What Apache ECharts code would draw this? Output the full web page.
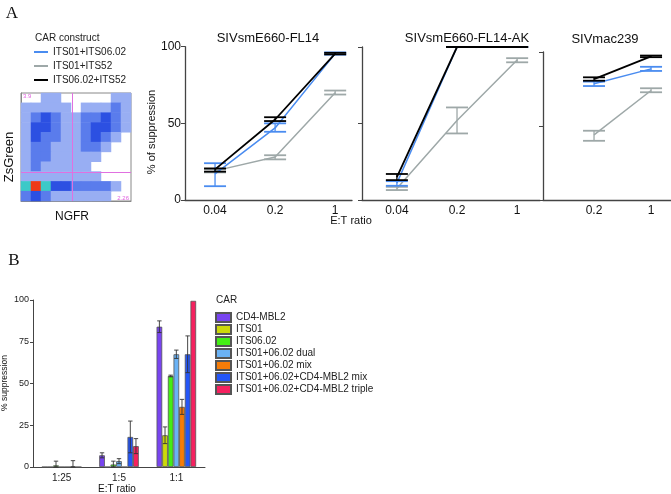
<!DOCTYPE html>
<html><head><meta charset="utf-8">
<script src="https://cdn.jsdelivr.net/npm/echarts@6/dist/echarts.min.js"></script>
<style>html,body{margin:0;padding:0;background:#fff}#c{width:671px;height:494px}</style>
</head><body><div id="c"></div>
<script>
// ---------- Panel A data ----------
const constructs = ['ITS01+ITS06.02', 'ITS01+ITS52', 'ITS06.02+ITS52'];
const constructColors = ['#4a8cf0', '#9ea8a8', '#000000'];
const ratiosFL = ['0.04', '0.2', '1'];
const ratiosAK = ['0.04', '0.2', '1'];
const ratiosMac = ['0.2', '1'];
// rows follow constructs order
const fl14Mean = [[17, 47, 95.5], [19, 28, 70], [20, 52.5, 95.5]];
const fl14Low  = [[9, 44.5, 94.8], [18, 26.5, 68.8], [18.5, 51.5, 95]];
const fl14High = [[24, 50, 96.3], [20, 29.2, 71.4], [20.6, 54, 96]];
const akMean = [[11, 100, 100], [7.5, 52, 91.5], [15, 100, 100]];
const akLow  = [[9.3, 100, 100], [6.5, 43.5, 90], [13, 100, 100]];
const akHigh = [[12.3, 100, 100], [8.6, 60.5, 92.7], [17, 100, 100]];
const macMean = [[78.5, 88.6], [44, 74], [81.7, 97]];
const macLow  = [[77, 87.2], [40, 72.8], [80.6, 96.5]];
const macHigh = [[80, 90], [46.8, 75.5], [82.9, 97.6]];

// flow cytometry density (rows top->bottom, cols left->right), 0 = empty
const flowDensity = [
  [0,0,1,1,0,0,0,0,0,1,1],
  [1,1,1,1,1,0,1,1,1,2,1],
  [1,2,3,2,1,1,2,2,3,2,1],
  [1,3,3,2,1,1,2,3,3,2,1],
  [1,3,2,2,1,1,2,3,2,1,0],
  [1,2,2,1,1,1,2,2,1,0,0],
  [1,2,2,1,1,1,1,1,0,0,0],
  [1,2,1,1,1,1,1,0,0,0,0],
  [1,1,1,1,1,1,1,1,0,0,0],
  [4,6,4,3,3,2,2,2,2,1,0],
  [2,3,2,1,1,1,1,1,1,0,0]
];
const flowGateX = 46.6;   // % of NGFR axis
const flowGateY = 26.2;   // % of ZsGreen axis
const quadrantPct = ['3.9', '5.1', '88.8', '2.26'];

// ---------- Panel B data ----------
const etRatios = ['1:25', '1:5', '1:1'];
const carNames = ['CD4-MBL2', 'ITS01', 'ITS06.02', 'ITS01+06.02 dual', 'ITS01+06.02 mix', 'ITS01+06.02+CD4-MBL2 mix', 'ITS01+06.02+CD4-MBL2 triple'];
const carColors = ['#7844f0', '#ccd90a', '#44ee14', '#6ab2f5', '#f67c08', '#2456f7', '#f5215f'];
const carMean = [[0, 7, 84], [0, 0, 19], [1, 1.5, 54.5], [0, 3.5, 67.5], [0, 0, 36], [0.3, 18, 67.5], [0, 12.5, 99.5]];
const carErr  = [[0, 1.5, 3.5], [0, 0, 5], [2.5, 2, 0.5], [0, 1.5, 2.5], [0, 0, 4.5], [3.5, 9.5, 11], [0, 4.5, 0]];

const FONT = 'Liberation Sans, Arial, sans-serif';
const chart = echarts.init(document.getElementById('c'), null, {renderer: 'canvas'});

function errRender(color) {
  return function (params, api) {
    const x = api.value(0), lo = api.value(1), hi = api.value(2);
    const a = api.coord([x, lo]), b = api.coord([x, hi]);
    const hw = 11;
    const st = {stroke: color, lineWidth: 1.3};
    const cs = {stroke: color, lineWidth: 1.8};
    return {type: 'group', children: [
      {type: 'line', shape: {x1: a[0], y1: a[1], x2: b[0], y2: b[1]}, style: st},
      {type: 'line', shape: {x1: a[0] - hw, y1: a[1], x2: a[0] + hw, y2: a[1]}, style: cs},
      {type: 'line', shape: {x1: b[0] - hw, y1: b[1], x2: b[0] + hw, y2: b[1]}, style: cs}
    ]};
  };
}
function barErrRender(si) {
  return function (params, api) {
    const c = api.value(0), v = api.value(1), e = api.value(2);
    if (!e) return null;
    const band = api.size([1, 0])[0];
    const bw = band * 0.69 / 7;
    const cx = api.coord([c, v])[0] + (si - 3) * bw;
    const t = api.coord([c, v + e])[1], b = api.coord([c, Math.max(v - e, 0)])[1];
    const hw = 2.2, st = {stroke: '#333', lineWidth: 0.9};
    return {type: 'group', children: [
      {type: 'line', shape: {x1: cx, y1: t, x2: cx, y2: b}, style: st},
      {type: 'line', shape: {x1: cx - hw, y1: t, x2: cx + hw, y2: t}, style: st},
      {type: 'line', shape: {x1: cx - hw, y1: b, x2: cx + hw, y2: b}, style: st}
    ]};
  };
}

const axisLineA = {show: true, onZero: false, lineStyle: {color: '#444', width: 1.3}};
function xAxisA(grid, labels, min, max) {
  return {type: 'value', gridIndex: grid, min: min, max: max,
    axisLine: axisLineA, axisTick: {show: false}, splitLine: {show: false},
    axisLabel: {customValues: labels.map((_, i) => i), formatter: v => labels[Math.round(v)],
      fontSize: 12, fontFamily: FONT, color: '#111', margin: 5}};
}
function yAxisA(grid, showLabels) {
  return {type: 'value', gridIndex: grid, min: 0, max: 100, interval: 50,
    axisLine: axisLineA, axisTick: {show: true, length: 4, lineStyle: {color: '#444'}},
    splitLine: {show: false},
    axisLabel: {show: showLabels, fontSize: 12, fontFamily: FONT, color: '#111', margin: 4}};
}

const xAxes = [
  {type: 'category', gridIndex: 0, data: flowDensity[0].map((_, i) => i), axisLabel: {show: false},
   axisLine: {onZero: false, lineStyle: {color: '#888'}}, axisTick: {length: 2, lineStyle: {color: '#888'}}, splitLine: {show: false}},
  xAxisA(1, ratiosFL, -0.5, 2.28),
  xAxisA(2, ratiosAK, -0.58, 2.38),
  xAxisA(3, ratiosMac, -0.895, 1.35),
  {type: 'category', gridIndex: 4, data: etRatios, axisLine: {onZero: false, lineStyle: {color: '#444'}}, axisTick: {show: false},
   axisLabel: {fontSize: 10, fontFamily: FONT, color: '#222', margin: 6}},
  {type: 'value', gridIndex: 5, min: 0, max: 100, show: false}
];
const yAxes = [
  {type: 'category', gridIndex: 0, inverse: true, data: flowDensity.map((_, i) => i), axisLabel: {show: false},
   axisLine: {onZero: false, lineStyle: {color: '#888'}}, axisTick: {length: 2, lineStyle: {color: '#888'}}, splitLine: {show: false}},
  yAxisA(1, true), yAxisA(2, false), yAxisA(3, false),
  {type: 'value', gridIndex: 4, min: 0, max: 100, interval: 25, splitLine: {show: false},
   axisLine: {show: true, onZero: false, lineStyle: {color: '#444'}}, axisTick: {show: true, length: 3, lineStyle: {color: '#444'}},
   axisLabel: {fontSize: 9, fontFamily: FONT, color: '#222', margin: 4}},
  {type: 'value', gridIndex: 5, min: 0, max: 100, show: false}
];

const series = [];
// flow heatmap
const heat = [];
flowDensity.forEach((row, r) => row.forEach((v, c) => { if (v > 0) heat.push([c, r, v]); }));
series.push({type: 'heatmap', xAxisIndex: 0, yAxisIndex: 0, data: heat, silent: true});
series.push({type: 'scatter', xAxisIndex: 5, yAxisIndex: 5, data: [], silent: true,
  markLine: {silent: true, symbol: 'none', label: {show: false}, lineStyle: {color: '#e070e0', width: 1, type: 'solid'},
    data: [{xAxis: flowGateX}, {yAxis: flowGateY}]}});

// line charts
const panels = [
  {grid: 1, mean: fl14Mean, low: fl14Low, high: fl14High},
  {grid: 2, mean: akMean, low: akLow, high: akHigh},
  {grid: 3, mean: macMean, low: macLow, high: macHigh}
];
const drawOrder = [1, 0, 2];
panels.forEach(p => {
  drawOrder.forEach((k, zi) => {
    series.push({type: 'line', name: constructs[k], xAxisIndex: p.grid, yAxisIndex: p.grid,
      data: p.mean[k].map((v, i) => [i, v]), symbol: 'none', z: 3 + zi, clip: false,
      color: constructColors[k],
      lineStyle: {color: constructColors[k], width: k === 2 ? 1.8 : 1.5}});
  });
});
panels.forEach(p => {
  drawOrder.forEach((k, zi) => {
    series.push({type: 'custom', xAxisIndex: p.grid, yAxisIndex: p.grid, z: 3 + zi, clip: false,
      renderItem: errRender(constructColors[k]), encode: {x: 0, y: [1, 2]},
      data: p.low[k].map((l, i) => [i, l, p.high[k][i]])});
  });
});

// bar chart
carNames.forEach((n, si) => {
  series.push({type: 'bar', name: n, xAxisIndex: 4, yAxisIndex: 4, data: carMean[si],
    barGap: '0%', barCategoryGap: '31%',
    itemStyle: {color: carColors[si], borderColor: '#555', borderWidth: 0.8}});
});
carNames.forEach((n, si) => {
  series.push({type: 'custom', xAxisIndex: 4, yAxisIndex: 4, z: 5, clip: false,
    renderItem: barErrRender(si), encode: {x: 0, y: [1, 2]},
    data: carMean[si].map((v, i) => [i, v, carErr[si][i]])});
});

const txt = (x, y, s, o) => Object.assign({type: 'text', x: x, y: y, silent: true,
  style: Object.assign({text: s, fontFamily: FONT, fontSize: 12, fill: '#111', align: 'center', verticalAlign: 'middle'}, (o && o.style) || {})},
  o ? {rotation: o.rotation || 0} : {});

const graphics = [
  txt(12, 14, 'A', {style: {fontFamily: 'Liberation Serif, DejaVu Serif, serif', fontSize: 17}}),
  txt(14, 261, 'B', {style: {fontFamily: 'Liberation Serif, DejaVu Serif, serif', fontSize: 17}}),
  txt(35, 38, 'CAR construct', {style: {fontSize: 10, align: 'left', fill: '#222'}}),
  txt(268, 38, 'SIVsmE660-FL14', {style: {fontSize: 13}}),
  txt(467, 38, 'SIVsmE660-FL14-AK', {style: {fontSize: 13}}),
  txt(605, 39, 'SIVmac239', {style: {fontSize: 13}}),
  txt(152, 132, '% of suppression', {rotation: Math.PI / 2, style: {fontSize: 11}}),
  txt(351, 221, 'E:T ratio', {style: {fontSize: 11}}),
  txt(9, 157, 'ZsGreen', {rotation: Math.PI / 2, style: {fontSize: 13}}),
  txt(72, 217, 'NGFR', {style: {fontSize: 12}}),
  txt(23, 96, quadrantPct[0], {style: {fontSize: 6, fill: '#e060e0', align: 'left'}}),
  txt(129, 96, quadrantPct[1], {style: {fontSize: 6, fill: '#e060e0', align: 'right'}}),
  txt(23, 198, quadrantPct[2], {style: {fontSize: 6, fill: '#e060e0', align: 'left'}}),
  txt(129, 198, quadrantPct[3], {style: {fontSize: 6, fill: '#e060e0', align: 'right'}}),
  txt(216, 300, 'CAR', {style: {fontSize: 10, align: 'left', fill: '#222'}}),
  txt(117, 489, 'E:T ratio', {style: {fontSize: 10}}),
  txt(5, 383, '% suppression', {rotation: Math.PI / 2, style: {fontSize: 8.5}})
];

chart.setOption({
  animation: false,
  backgroundColor: '#fff',
  textStyle: {fontFamily: FONT},
  grid: [
    {left: 21, top: 93, width: 110, height: 108, show: true, borderColor: '#888', borderWidth: 1},
    {left: 185, top: 46.7, width: 167, height: 153.3},
    {left: 362, top: 47, width: 178, height: 153},
    {left: 543, top: 52, width: 128, height: 148},
    {left: 33, top: 300, width: 172, height: 167},
    {left: 21, top: 93, width: 110, height: 108}
  ],
  xAxis: xAxes,
  yAxis: yAxes,
  visualMap: {type: 'piecewise', show: false, seriesIndex: 0, dimension: 2,
    pieces: [
      {value: 1, color: '#98aef3'}, {value: 2, color: '#5a7cec'}, {value: 3, color: '#2c50e2'},
      {value: 4, color: '#3cc9c8'}, {value: 5, color: '#d8e020'}, {value: 6, color: '#ee3a18'}
    ]},
  legend: [
    {data: constructs, orient: 'vertical', left: 34, top: 47, padding: 0, itemWidth: 14, itemHeight: 2, itemGap: 4,
     icon: 'rect', selectedMode: false, textStyle: {fontSize: 10, fontFamily: FONT, color: '#222'}},
    {data: carNames, orient: 'vertical', left: 215, top: 312, padding: 0, itemWidth: 15, itemHeight: 9, itemGap: 1,
     icon: 'rect', selectedMode: false, textStyle: {fontSize: 10, lineHeight: 9, fontFamily: FONT, color: '#222'}}
  ],
  graphic: graphics,
  series: series
});
</script>
</body></html>
